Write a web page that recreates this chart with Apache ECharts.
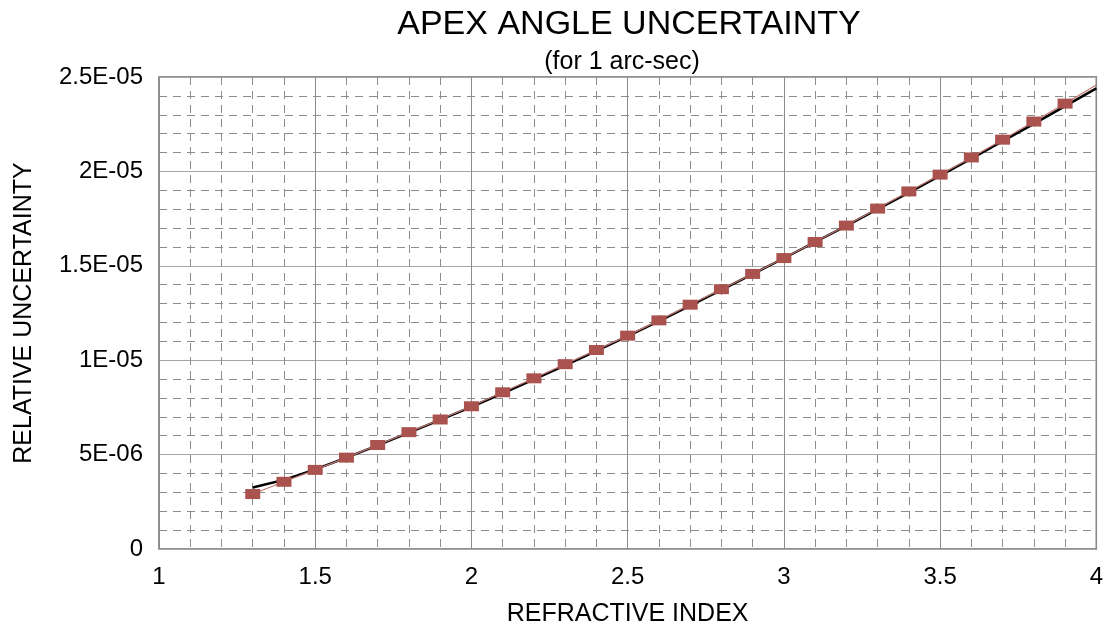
<!DOCTYPE html>
<html>
<head>
<meta charset="utf-8">
<script src="https://cdn.jsdelivr.net/npm/echarts@6/dist/echarts.min.js"></script>
<style>
html,body{margin:0;padding:0;background:#fff;}
#chart{width:1106px;height:632px;}
</style>
</head>
<body>
<div id="chart"></div>
<script>
// Refractive index of each measured point
var indexValues = [1.3,1.4,1.5,1.6,1.7,1.8,1.9,2.0,2.1,2.2,2.3,2.4,2.5,2.6,2.7,2.8,2.9,3.0,3.1,3.2,3.3,3.4,3.5,3.6,3.7,3.8,3.9,4.0];
// Measured relative uncertainty (x1E-06); last point has no marker
var measuredValues = [2.91,3.56,4.19,4.84,5.51,6.19,6.86,7.56,8.30,9.04,9.79,10.54,11.30,12.11,12.94,13.76,14.57,15.41,16.26,17.13,18.03,18.94,19.83,20.74,21.68,22.64,23.59,24.58];
// Fitted curve (x1E-06)
var fitIndex = [1.3,1.4,1.5,1.6,1.7,1.8,1.9,2.0,2.1,2.2,2.3,2.4,2.5,2.6,2.7,2.8,2.9,3.0,3.1,3.2,3.3,3.4,3.5,3.6,3.7,3.8,3.9,4.0];
var fitValues = [3.26,3.66,4.22,4.84,5.49,6.16,6.84,7.53,8.25,8.98,9.73,10.49,11.27,12.07,12.89,13.72,14.56,15.40,16.26,17.12,18.00,18.88,19.78,20.68,21.60,22.52,23.46,24.40];
var xTickLabels = ['1','1.5','2','2.5','3','3.5','4'];
var yTickLabels = ['0','5E-06','1E-05','1.5E-05','2E-05','2.5E-05'];
var scale = 1e-6;

var measuredData = indexValues.map(function (x, i) {
  var p = {value: [x, measuredValues[i] * scale]};
  if (i === indexValues.length - 1) { p.symbol = 'none'; }
  return p;
});
var fitData = fitIndex.map(function (x, i) { return [x, fitValues[i] * scale]; });

var chart = echarts.init(document.getElementById('chart'), null, {renderer: 'canvas'});
var font = '"Liberation Sans", Arial, sans-serif';
chart.setOption({
  animation: false,
  backgroundColor: '#ffffff',
  title: [
    {text: 'APEX ANGLE UNCERTAINTY', left: 624, top: 3, textAlign: 'center',
     textStyle: {fontFamily: font, fontSize: 34, fontWeight: 'normal', color: '#000'}},
    {text: '(for 1 arc-sec)', left: 617, top: 45, textAlign: 'center',
     textStyle: {fontFamily: font, fontSize: 25, fontWeight: 'normal', color: '#000'}}
  ],
  grid: {left: 159, right: 4, top: 77, bottom: 80, show: true, borderColor: '#6e6e6e', borderWidth: 1.5, backgroundColor: 'transparent'},
  xAxis: {
    type: 'value', min: 1, max: 4, interval: 0.5,
    name: 'REFRACTIVE INDEX', nameLocation: 'middle', nameGap: 53,
    nameTextStyle: {fontFamily: font, fontSize: 25, color: '#000'},
    axisLine: {show: false},
    axisTick: {show: false},
    axisLabel: {fontFamily: font, fontSize: 24, color: '#000', margin: 16,
      formatter: function (v) { var i = Math.round((v - 1) / 0.5); return xTickLabels[i]; }},
    splitLine: {show: true, lineStyle: {color: '#8c8c8c', width: 1}},
    minorTick: {show: false, splitNumber: 5},
    minorSplitLine: {show: true, lineStyle: {color: '#8c8c8c', width: 1, type: [8, 6]}}
  },
  yAxis: {
    type: 'value', min: 0, max: 2.5e-5, interval: 5e-6,
    name: 'RELATIVE UNCERTAINTY', nameLocation: 'middle', nameGap: 122, nameRotate: 90,
    nameTextStyle: {fontFamily: font, fontSize: 25, color: '#000'},
    axisLine: {show: false},
    axisTick: {show: false},
    axisLabel: {fontFamily: font, fontSize: 24, color: '#000', margin: 16,
      formatter: function (v) { var i = Math.round(v / 5e-6); return yTickLabels[i]; }},
    splitLine: {show: true, lineStyle: {color: '#a6a6a6', width: 1}},
    minorTick: {show: false, splitNumber: 5},
    minorSplitLine: {show: true, lineStyle: {color: '#8c8c8c', width: 1, type: [8, 6]}}
  },
  series: [
    {type: 'line', data: fitData, showSymbol: false, symbol: 'none', smooth: false,
     lineStyle: {color: '#000000', width: 2.5}, z: 3},
    {type: 'line', data: measuredData, symbol: 'rect', symbolSize: [15, 10],
     itemStyle: {color: '#a9524e'}, lineStyle: {color: '#c47a76', width: 1.2}, z: 4}
  ]
});
</script>
</body>
</html>
